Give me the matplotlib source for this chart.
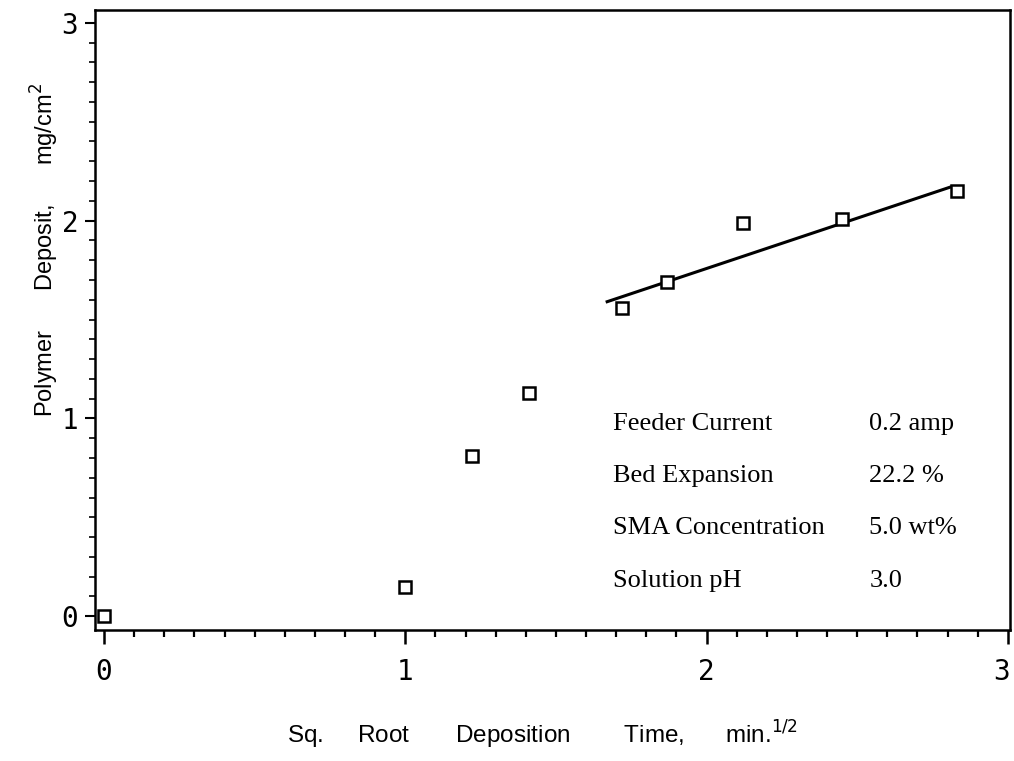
import matplotlib
matplotlib.use('Agg')
import matplotlib.pyplot as plt
from matplotlib.ticker import MultipleLocator
from matplotlib.transforms import ScaledTranslation

# deposition data, x = sqrt(time in min)
sqrt_time = [0.0, 1.0, 1.22, 1.41, 1.72, 1.87, 2.12, 2.45, 2.83]
deposit = [0.0, 0.15, 0.81, 1.13, 1.56, 1.69, 1.99, 2.01, 2.15]

# linear fit over the later points
fit_x = [1.67, 2.81]
fit_y = [1.59, 2.17]

cond_names = ['Feeder Current', 'Bed Expansion', 'SMA Concentration', 'Solution pH']
cond_values = ['0.2 amp', '22.2 %', '5.0 wt%', '3.0']
cond_rows = [0.97, 0.71, 0.445, 0.18]

fig = plt.figure(figsize=(10.14, 7.61), dpi=100)
ax = fig.add_axes([0.0937, 0.1721, 0.9023, 0.8148])

ax.plot(sqrt_time, deposit, 's', ms=9, mfc='white', mec='black', mew=1.8, zorder=3)
ax.plot(fit_x, fit_y, '-', color='black', lw=2.2)

ax.set_xlim(-0.03, 3.007)
ax.set_ylim(-0.07, 3.065)
ax.xaxis.set_major_locator(MultipleLocator(1))
ax.xaxis.set_minor_locator(MultipleLocator(0.1))
ax.yaxis.set_major_locator(MultipleLocator(1))
ax.yaxis.set_minor_locator(MultipleLocator(0.1))
ax.tick_params(axis='x', which='major', direction='out', length=10, width=1.8, pad=10, labelsize=20)
ax.tick_params(axis='x', which='minor', direction='out', length=5, width=1.6)
ax.tick_params(axis='y', which='major', direction='out', length=7, width=1.5, pad=5, labelsize=20)
ax.tick_params(axis='y', which='minor', direction='out', length=4, width=1.2)
fig.canvas.draw()
xlabels = ax.get_xticklabels()
for lab in xlabels + ax.get_yticklabels():
    lab.set_family('DejaVu Sans Mono')
# pull the last x label in so it stays on the canvas
last = [l for l in xlabels if l.get_text() == '3']
for l in last:
    l.set_transform(l.get_transform() + ScaledTranslation(-6 / 100, 0, fig.dpi_scale_trans))
for sp in ax.spines.values():
    sp.set_linewidth(1.8)

for name, val, yy in zip(cond_names, cond_values, cond_rows):
    ax.text(1.69, yy, name, family='Liberation Serif', fontsize=19, va='center', ha='left')
    ax.text(2.54, yy, val, family='Liberation Serif', fontsize=19, va='center', ha='left')

fig.text(0.535, 0.034, 'Sq.     Root       Deposition        Time,      min.$^{1/2}$',
         family='Liberation Sans', fontsize=17.5, ha='center', va='center')
fig.text(0.044, 0.671, 'Polymer      Deposit,      mg/cm$^2$',
         family='Liberation Sans', fontsize=17, ha='center', va='center', rotation=90)

fig.savefig('out.png', dpi=100)
